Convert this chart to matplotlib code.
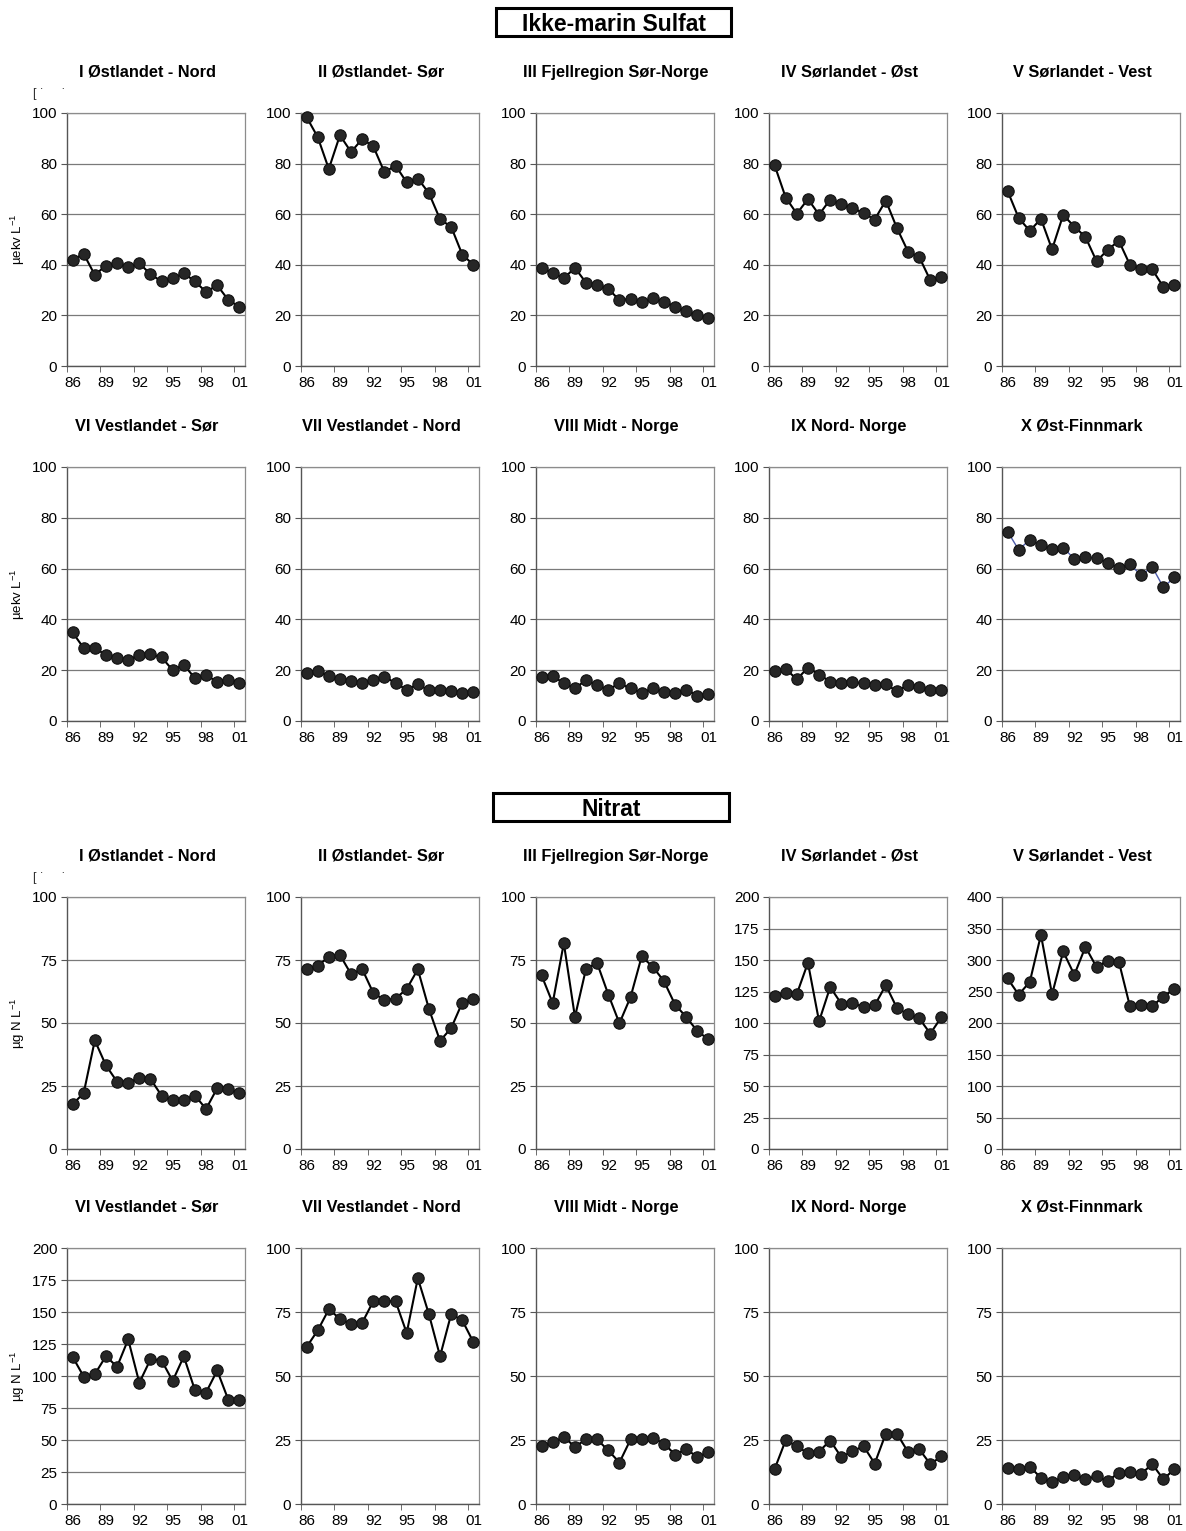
import matplotlib
matplotlib.use("Agg")
import matplotlib.pyplot as plt
from matplotlib.patches import Rectangle

plt.rcParams['font.family'] = ['Liberation Sans', 'DejaVu Sans']
plt.rcParams['mathtext.fontset'] = 'custom'
plt.rcParams['mathtext.rm'] = 'Liberation Sans'

# ---- data ----
years = list(range(1986, 2002))
label_years = [1986, 1989, 1992, 1995, 1998, 2001]
year_labels = ['86', '89', '92', '95', '98', '01']

regions = ['I Østlandet - Nord', 'II Østlandet- Sør', 'III Fjellregion Sør-Norge',
           'IV Sørlandet - Øst', 'V Sørlandet - Vest', 'VI Vestlandet - Sør',
           'VII Vestlandet - Nord', 'VIII Midt - Norge', 'IX Nord- Norge',
           'X Øst-Finnmark']

# Ikke-marin sulfat (µekv/L)
sulfat_I = [42, 44.3, 36, 39.7, 40.9, 39.3, 40.6, 36.3, 33.4, 34.6, 36.7, 33.4, 29.3, 31.9, 26.1, 23.4]
sulfat_II = [98.4, 90.5, 77.9, 91.2, 84.6, 89.7, 86.8, 76.6, 79.2, 72.6, 74.1, 68.3, 58, 55, 44, 40]
sulfat_III = [38.8, 36.8, 34.7, 38.8, 32.9, 32.2, 30.5, 26, 26.6, 25.3, 26.8, 25.4, 23.5, 21.6, 20.1, 18.8]
sulfat_IV = [79.4, 66.6, 60.2, 66, 59.8, 65.8, 64.1, 62.5, 60.4, 57.9, 65.4, 54.5, 45.2, 43.1, 33.9, 35.2]
sulfat_V = [69.2, 58.5, 53.4, 58.2, 46.1, 59.7, 55.1, 51, 41.4, 45.9, 49.5, 40, 38.4, 38.2, 31.3, 31.9]
sulfat_VI = [34.9, 28.7, 28.7, 26, 24.7, 23.9, 26.1, 26.2, 25.1, 20, 22.2, 16.8, 18.1, 15.4, 16.3, 15.1]
sulfat_VII = [18.9, 19.8, 17.6, 16.4, 15.8, 14.8, 16.3, 17.5, 14.9, 12.3, 14.4, 12.1, 12.1, 11.7, 11, 11.4]
sulfat_VIII = [17.4, 17.8, 14.8, 12.8, 16.2, 14, 12.4, 14.8, 12.8, 11.1, 12.8, 11.4, 11.1, 12.4, 9.9, 10.5]
sulfat_IX = [19.6, 20.5, 16.4, 21, 18.3, 15.5, 15, 15.3, 14.8, 14.1, 14.4, 11.8, 14.1, 13.2, 12.2, 12.2]
sulfat_X = [74.6, 67.4, 71.4, 69.2, 67.6, 68.3, 63.8, 64.5, 64.1, 62.3, 60.4, 61.7, 57.4, 60.7, 52.7, 56.5]

# Nitrat (µg N/L)
nitrat_I = [17.7, 22.2, 43.1, 33.2, 26.7, 26.3, 28.2, 27.8, 21.2, 19.3, 19.6, 21.2, 15.9, 24.1, 23.8, 22.2]
nitrat_II = [71.3, 72.6, 76.3, 77, 69.4, 71.4, 61.9, 59.1, 59.7, 63.5, 71.3, 55.6, 42.9, 48, 58.1, 59.4]
nitrat_III = [68.9, 57.9, 81.7, 52.4, 71.6, 73.7, 61.3, 49.9, 60.3, 76.4, 72.3, 66.6, 57.3, 52.4, 46.8, 43.5]
nitrat_IV = [121.4, 124, 123, 147.8, 101.3, 128.5, 115.3, 115.6, 112.9, 114, 130, 111.9, 106.9, 103.7, 91.6, 104.7]
nitrat_V = [270.7, 244.9, 265.4, 339.8, 245.4, 313.5, 276.5, 320.8, 288.7, 299.2, 297.6, 226.4, 229, 226.9, 241.7, 254.4]
nitrat_VI = [115, 99.6, 101.4, 115.5, 107.2, 128.6, 94.7, 112.9, 112.1, 96.2, 115.3, 88.9, 87.1, 104.3, 81.4, 81.1]
nitrat_VII = [61.3, 67.8, 76, 72.4, 70.3, 70.8, 79.2, 79.3, 79.2, 66.8, 88.2, 74.1, 57.7, 74.2, 71.7, 63.2]
nitrat_VIII = [22.8, 24.1, 26.1, 22.4, 25.2, 25.2, 20.9, 16.2, 25.2, 25.2, 25.7, 23.6, 19.3, 21.4, 18.4, 20.2]
nitrat_IX = [13.6, 24.9, 22.6, 19.8, 20.5, 24.8, 18.3, 20.6, 22.6, 15.8, 27.5, 27.5, 20.3, 21.4, 15.6, 18.6]
nitrat_X = [14.2, 13.8, 14.6, 10.2, 8.6, 10.6, 11.5, 9.7, 10.8, 8.9, 12.3, 12.6, 11.7, 15.6, 9.7, 13.6]

sulfat = [sulfat_I, sulfat_II, sulfat_III, sulfat_IV, sulfat_V,
          sulfat_VI, sulfat_VII, sulfat_VIII, sulfat_IX, sulfat_X]
nitrat = [nitrat_I, nitrat_II, nitrat_III, nitrat_IV, nitrat_V,
          nitrat_VI, nitrat_VII, nitrat_VIII, nitrat_IX, nitrat_X]

sulfat_ymax = [100] * 10
sulfat_step = [20] * 10
nitrat_ymax = [100, 100, 100, 200, 400, 200, 100, 100, 100, 100]
nitrat_step = [25, 25, 25, 25, 50, 25, 25, 25, 25, 25]

# ---- layout (pixels) ----
W, H = 1186, 1531
fig = plt.figure(figsize=(W / 100, H / 100), dpi=100)

col_left = [67, 301, 536, 769, 1002]
col_width = 178
row_spans = [(113, 366), (467, 721), (897, 1149), (1248, 1504)]


def add_px_axes(left, top, width, height):
    return fig.add_axes([left / W, 1 - (top + height) / H, width / W, height / H])


def draw_panel(ax, values, ymax, step, title, line_color='black', line_width=1.5):
    ax.plot(years, values, color=line_color, lw=line_width, marker='o', ms=8.2,
            mfc='#262626', mec='#111111', mew=0.8, zorder=3, clip_on=False)
    ax.set_xlim(1985.5, 2001.5)
    ax.set_ylim(0, ymax)
    ax.set_yticks(range(0, ymax + 1, step))
    ax.yaxis.grid(True, color='#7a7a7a', lw=0.9)
    ax.set_axisbelow(True)
    ax.set_xticks(label_years)
    ax.set_xticklabels(year_labels)
    ax.set_xticks([1985.5 + 3 * k for k in range(6)], minor=True)
    ax.tick_params(axis='x', which='major', length=0, pad=7, labelsize=11)
    ax.tick_params(axis='x', which='minor', length=4, color='#555555')
    ax.tick_params(axis='y', length=4, color='#555555', labelsize=11, pad=3)
    for side in ['top', 'right']:
        ax.spines[side].set_color('#8c8c8c')
        ax.spines[side].set_linewidth(0.9)
    for side in ['left', 'bottom']:
        ax.spines[side].set_color('#555555')
        ax.spines[side].set_linewidth(1.0)
    ax.set_title(title, fontsize=11.8, fontweight='bold', pad=26, x=0.45)


groups = [(sulfat, sulfat_ymax, sulfat_step, 0, r'µekv L$^{-1}$'),
          (nitrat, nitrat_ymax, nitrat_step, 2, r'µg N L$^{-1}$')]

for data, ymaxes, steps, row0, ylabel in groups:
    for i in range(10):
        r = row0 + i // 5
        c = i % 5
        top, bottom = row_spans[r]
        ax = add_px_axes(col_left[c], top, col_width, bottom - top)
        if data is sulfat and i == 9:
            draw_panel(ax, data[i], ymaxes[i], steps[i], regions[i],
                       line_color='#4b5aa8', line_width=1.0)
        else:
            draw_panel(ax, data[i], ymaxes[i], steps[i], regions[i])
    for r in (row0, row0 + 1):
        top, bottom = row_spans[r]
        fig.text(18 / W, 1 - (top + bottom) / 2 / H, ylabel, rotation=90,
                 ha='center', va='center', fontsize=9.5)
    # small scan marks above the first panel
    fig.text(33 / W, 1 - (row_spans[row0][0] - 19) / H, '[ ˙     ˙', fontsize=9,
             ha='left', va='center', color='#333333')

# ---- section headers ----
for title, (x0, y0, x1, y1) in [('Ikke-marin Sulfat', (496, 8, 731, 36)),
                                 ('Nitrat', (493, 793, 729, 821))]:
    fig.add_artist(Rectangle((x0 / W, 1 - y1 / H), (x1 - x0) / W, (y1 - y0) / H,
                             transform=fig.transFigure, fill=False,
                             edgecolor='black', lw=2.2))
    fig.text((x0 + x1) / 2 / W, 1 - (y0 + y1) / 2 / H, title, fontsize=16.5,
             fontweight='bold', ha='center', va='center_baseline')

fig.savefig('out.png', dpi=100, facecolor='white')
